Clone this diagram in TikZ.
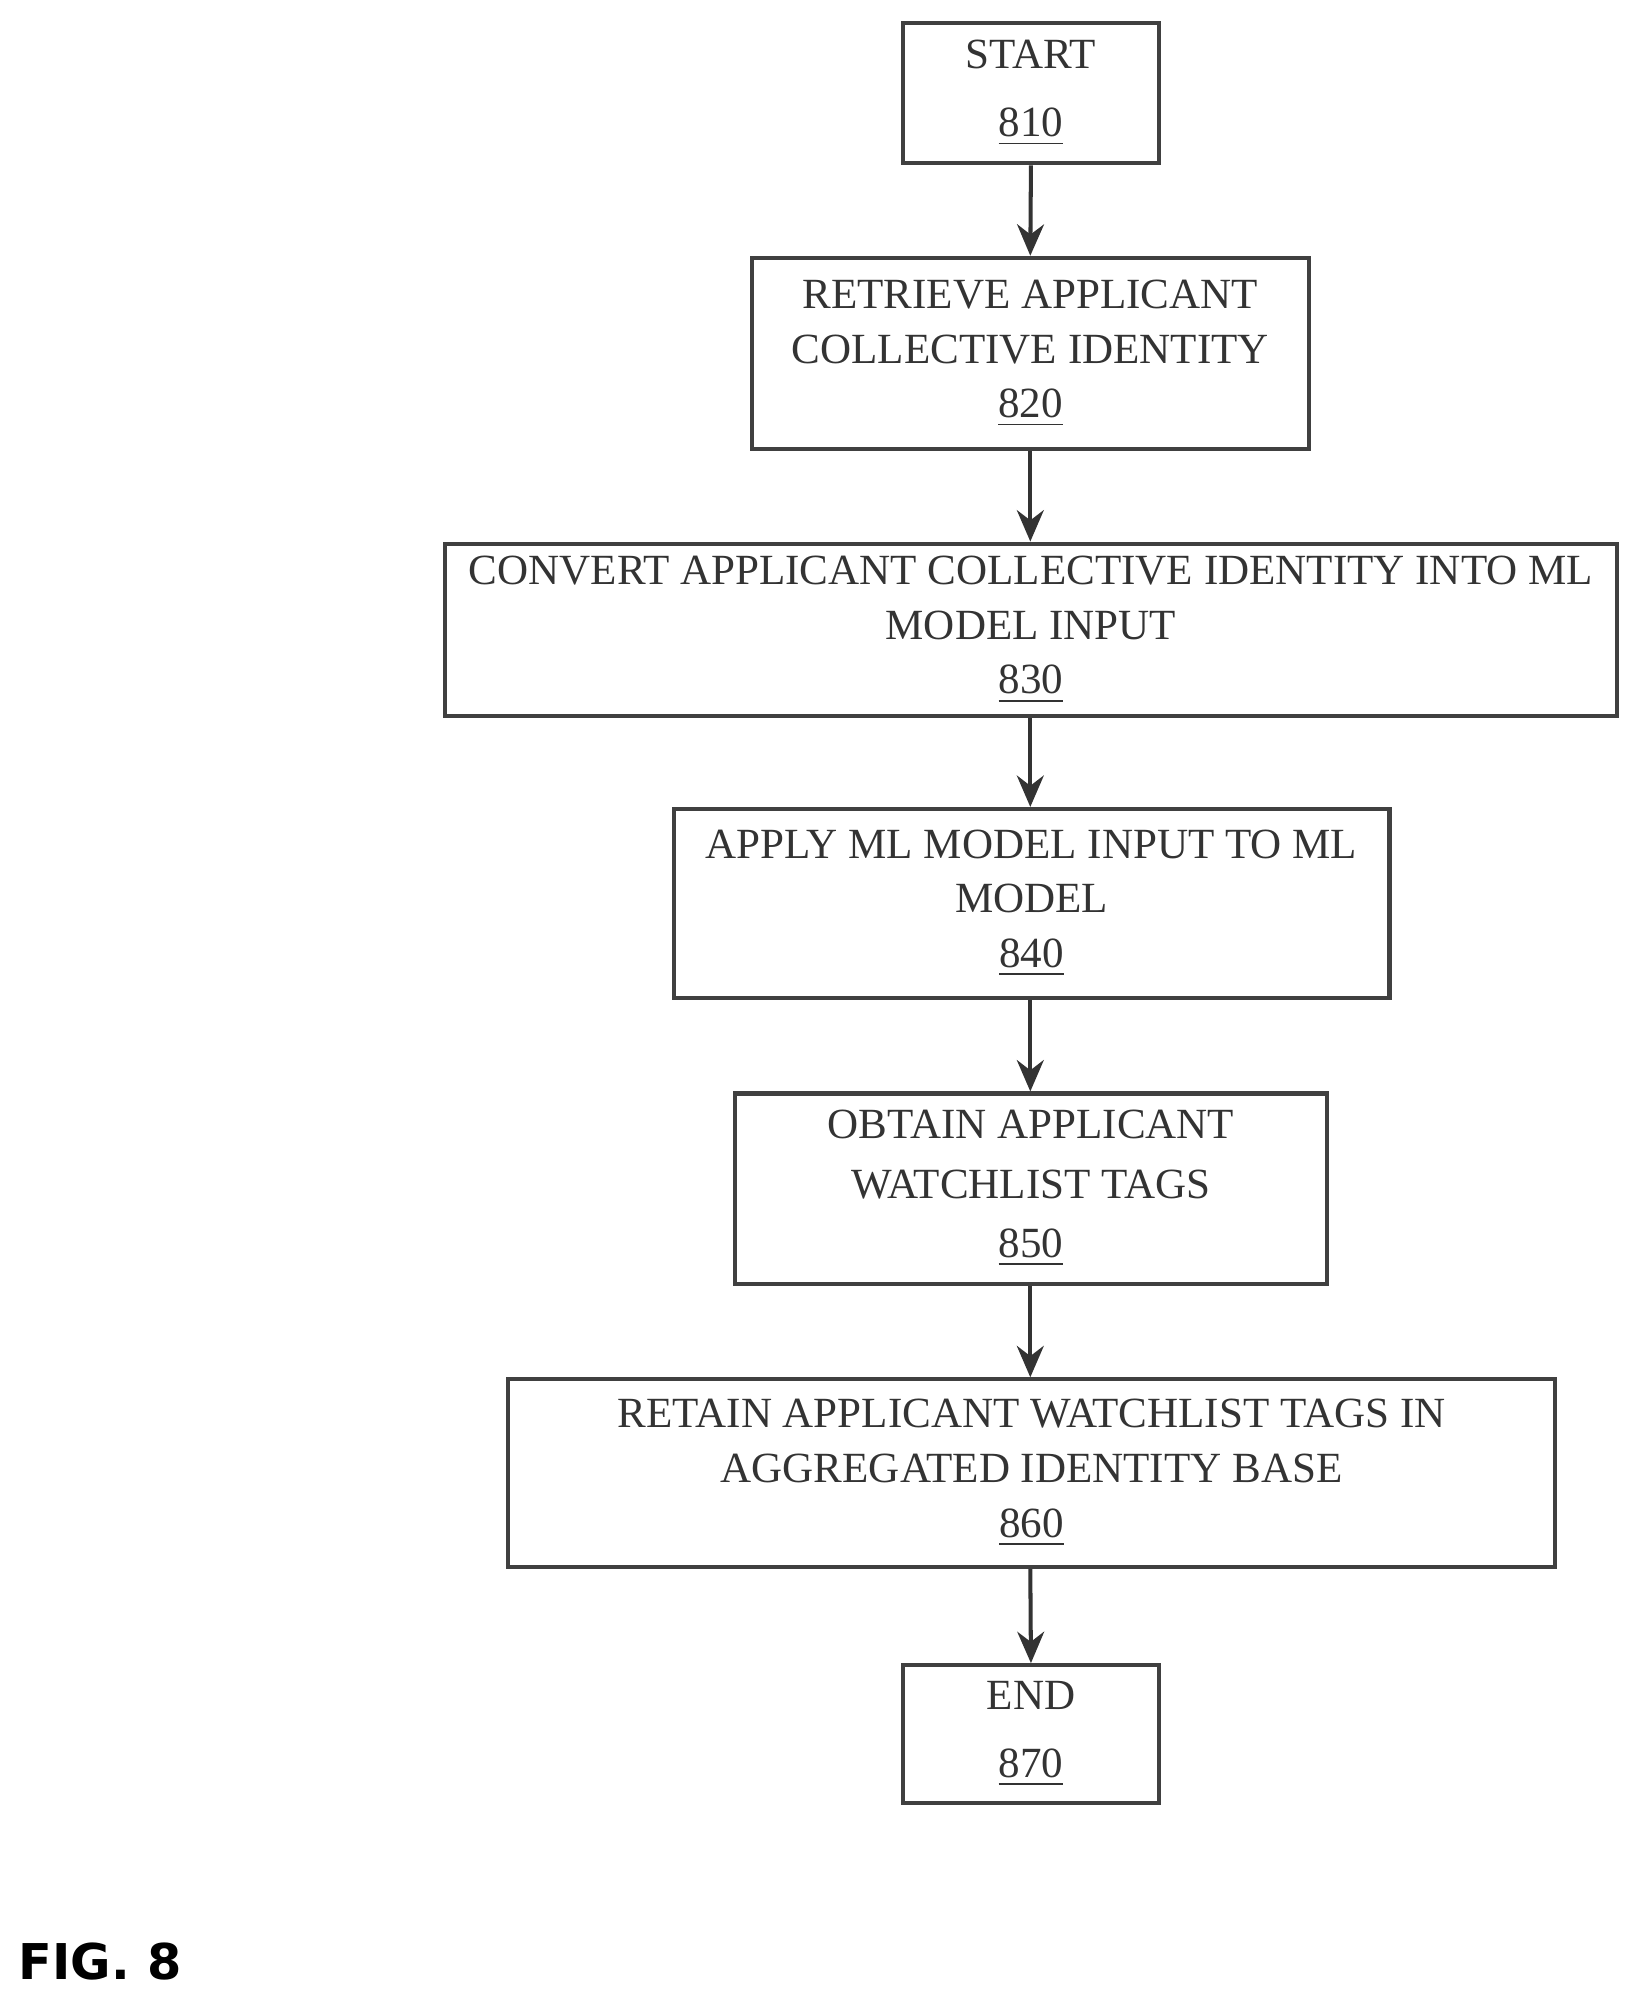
\documentclass[tikz,border=0pt]{standalone}
\usepackage{fontspec}
\setmainfont{Liberation Serif}
\newfontfamily\figfont{DejaVu Sans}[BoldFont={DejaVu Sans Bold}]
\usetikzlibrary{arrows.meta}
\begin{document}
\begin{tikzpicture}[x=0.1mm,y=-0.1mm,
  box/.style={draw=black!75,line width=0.9pt,inner sep=0pt,align=center,font=\fontsize{9.6pt}{11.2pt}\selectfont,text=black!80},
  arr/.style={-{Stealth[length=7pt,width=6pt]},line width=0.9pt,draw=black!80}]
\useasboundingbox (0,0) rectangle (1280,1562);
\newcommand{\bx}[6]{\node[box,minimum width={(#3-#2)*0.1mm},minimum height={(#5-#4)*0.1mm}] (#1) at ({(#2+#3)/2},{(#4+#5)/2}) {#6};}
\bx{s}{708}{908}{18}{128}{START\\[4pt]\underline{810}}
\bx{a}{589}{1026}{202}{352}{RETRIEVE APPLICANT\\[1pt]COLLECTIVE IDENTITY\\[1pt]\underline{820}}
\bx{b}{349}{1267}{426}{561}{CONVERT APPLICANT COLLECTIVE IDENTITY INTO ML\\[1pt]MODEL INPUT\\[1pt]\underline{830}}
\bx{c}{528}{1089}{634}{782}{APPLY ML MODEL INPUT TO ML\\[1pt]MODEL\\[1pt]\underline{840}}
\bx{d}{576}{1040}{857}{1006}{OBTAIN APPLICANT\\[2pt]WATCHLIST TAGS\\[2pt]\underline{850}}
\bx{e}{398}{1219}{1081}{1228}{RETAIN APPLICANT WATCHLIST TAGS IN\\[1pt]AGGREGATED IDENTITY BASE\\[1pt]\underline{860}}
\bx{f}{708}{908}{1305}{1413}{END\\[4pt]\underline{870}}
\draw[arr] (s.south) -- (a.north);
\draw[arr] (a.south) -- (a.south|-b.north);
\draw[arr] (a.south|-b.south) -- (a.south|-c.north);
\draw[arr] (a.south|-c.south) -- (a.south|-d.north);
\draw[arr] (a.south|-d.south) -- (a.south|-e.north);
\draw[arr] (a.south|-e.south) -- (f.north);
\node[anchor=west,font=\figfont\bfseries\fontsize{11pt}{13pt}\selectfont,inner sep=0pt] (fig) at (14,1537) {FIG. 8};
\end{tikzpicture}
\end{document}
